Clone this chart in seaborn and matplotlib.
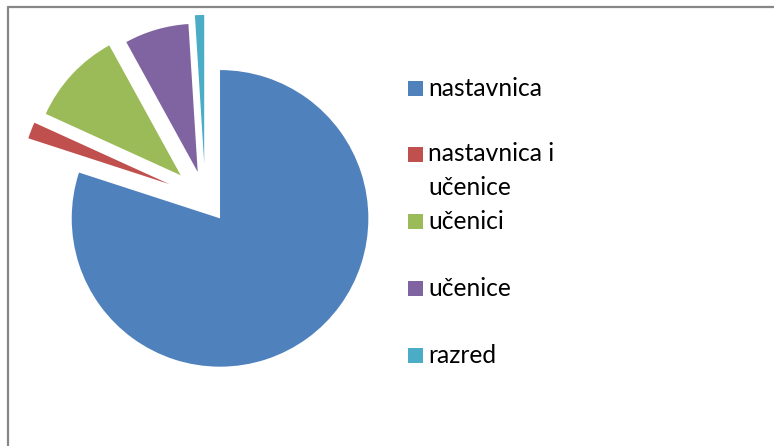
import matplotlib
matplotlib.use("Agg")
import matplotlib.pyplot as plt
from matplotlib.patches import Rectangle
from matplotlib.lines import Line2D
import seaborn as sns

# ---- data ----
labels = ["nastavnica", "nastavnica i\nučenice", "učenici", "učenice", "razred"]
values = [80.0, 1.8, 10.2, 7.0, 1.0]
colors = ["#4F81BD", "#C0504D", "#9BBB59", "#8064A2", "#4BACC6"]
explode = [0.169, 0.26, 0.226, 0.183, 0.235]

sns.set_theme(style="white")
plt.rcParams["font.family"] = ["Lato", "DejaVu Sans"]

W, H = 774, 446
fig = plt.figure(figsize=(W / 100, H / 100), dpi=100)
fig.patch.set_facecolor("white")
ax = fig.add_axes([0, 0, 1, 1])

wedges, _ = ax.pie(values, colors=colors, explode=explode, startangle=90,
                   counterclock=False, radius=1.0,
                   wedgeprops=dict(linewidth=0))

# map pixels to data: center at (205.3, 198.1 from top), radius 148.3 px
R = 148.3
cx, cy = 205.3, 198.1
ax.set_xlim(-cx / R, (W - cx) / R)
ax.set_ylim(-(H - cy) / R, cy / R)
ax.set_aspect("equal", adjustable="datalim")
ax.axis("off")

# border (left and top)
border_col = "#878787"
fig.add_artist(Line2D([8 / W, 8 / W], [0, 1 - 7 / H], transform=fig.transFigure,
                      color=border_col, linewidth=1.6))
fig.add_artist(Line2D([8 / W, 1], [1 - 7 / H, 1 - 7 / H], transform=fig.transFigure,
                      color=border_col, linewidth=1.6))

# legend
mx, msz = 408, 15
top0, step = 80.5, 66.8
line_gap = 32.6
for i, (lab, w) in enumerate(zip(labels, wedges)):
    top = top0 + step * i
    fig.add_artist(Rectangle((mx / W, 1 - (top + msz) / H), msz / W, msz / H,
                             transform=fig.transFigure,
                             facecolor=w.get_facecolor(), edgecolor="none"))
    nl = lab.count("\n")
    base = top + msz + nl * line_gap
    fig.text(428.5 / W, 1 - base / H, lab, fontsize=17.7, color="#000000",
             ha="left", va="baseline", linespacing=1.55)

fig.savefig("out.png", dpi=100, facecolor="white")
